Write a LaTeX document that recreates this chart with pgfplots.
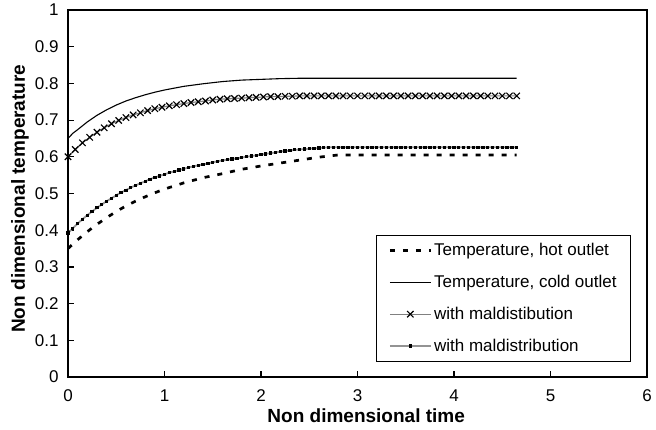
\documentclass[border=0pt]{standalone}
\usepackage{fontspec}
\setmainfont{Liberation Sans}
\usepackage{pgfplots}
\pgfplotsset{compat=1.18}
\begin{document}
\begin{tikzpicture}
\begin{axis}[
  at={(0,0)}, anchor=south west,
  scale only axis, width=579pt, height=367pt,
  xmin=0, xmax=6, ymin=0, ymax=1,
  xtick={0,1,2,3,4,5,6},
  ytick={0,0.1,0.2,0.3,0.4,0.5,0.6,0.7,0.8,0.9,1},
  tick align=inside, tick pos=left,
  major tick length=6pt,
  every tick/.style={black, line width=1.2pt},
  axis line style={line width=1.6pt},
  tick label style={font=\fontsize{17}{20}\selectfont},
  /pgf/number format/assume math mode=true,
  xticklabel style={anchor=base, yshift=-24pt},
  yticklabel style={xshift=-6pt},
  xlabel={Non dimensional time},
  ylabel={Non dimensional temperature},
  label style={font=\fontsize{19}{22}\selectfont\bfseries},
  xlabel style={at={(axis description cs:0.515,-0.124)}, anchor=base},
  ylabel style={at={(axis description cs:-0.0743,0.486)}, anchor=base},
  legend style={at={(axis description cs:0.9724,0.388)}, anchor=north east,
    draw=black, line width=1pt, font=\fontsize{17}{20}\selectfont,
    inner xsep=12pt, inner ysep=6.5pt, row sep=14pt},
  legend cell align=left,
  legend image code/.code={\draw[mark repeat=2,mark phase=2,#1] plot coordinates {(0pt,0pt) (20.5pt,0pt) (41pt,0pt)};},
]
% hot outlet (dashed)
\addplot[black, line width=2.7pt, dash pattern=on 5pt off 8pt, no marks] coordinates {
(0,0.350) (0.1,0.374) (0.2,0.396) (0.3,0.416) (0.4,0.434) (0.5,0.451) (0.6,0.466)
(0.7,0.479) (0.8,0.491) (0.9,0.502) (1.0,0.512) (1.2,0.529) (1.4,0.543) (1.6,0.554)
(1.8,0.566) (2.0,0.575) (2.2,0.583) (2.4,0.591) (2.6,0.599) (2.8,0.605) (4.65,0.605)
};
\addlegendentry{Temperature, hot outlet}
% cold outlet (solid)
\addplot[black, line width=1.1pt, no marks] coordinates {
(0,0.650) (0.05,0.664) (0.1,0.674) (0.2,0.695) (0.3,0.713) (0.4,0.728) (0.5,0.741) (0.6,0.752)
(0.7,0.761) (0.8,0.769) (0.9,0.776) (1.0,0.782) (1.2,0.792) (1.4,0.799) (1.6,0.805)
(1.8,0.809) (2.0,0.811) (2.2,0.813) (2.4,0.814) (4.65,0.814)
};
\addlegendentry{Temperature, cold outlet}
% cold with maldistribution (x marks)
\addplot[gray, line width=1.2pt, mark=x, mark size=4.5pt, mark options={black, solid, line width=1.2pt}] coordinates {
(0,0.600) (0.075,0.620) (0.15,0.638) (0.225,0.653) (0.3,0.667) (0.375,0.679)
(0.45,0.690) (0.525,0.699) (0.6,0.707) (0.675,0.714) (0.75,0.720) (0.825,0.726)
(0.9,0.731) (0.975,0.735) (1.05,0.739) (1.125,0.742) (1.2,0.745) (1.275,0.748)
(1.35,0.750) (1.425,0.752) (1.5,0.755) (1.575,0.757) (1.65,0.758) (1.725,0.759)
(1.8,0.760) (1.875,0.761) (1.95,0.762) (2.025,0.763) (2.1,0.764) (2.175,0.764)
(2.25,0.765) (2.325,0.765) (2.4,0.766) (2.475,0.766) (2.55,0.766) (2.625,0.766)
(2.7,0.766) (2.775,0.766) (2.85,0.766) (2.925,0.766) (3.0,0.766) (3.075,0.766)
(3.15,0.766) (3.225,0.766) (3.3,0.766) (3.375,0.766) (3.45,0.766) (3.525,0.766)
(3.6,0.766) (3.675,0.766) (3.75,0.766) (3.825,0.766) (3.9,0.766) (3.975,0.766)
(4.05,0.766) (4.125,0.766) (4.2,0.766) (4.275,0.766) (4.35,0.766) (4.425,0.766)
(4.5,0.766) (4.575,0.766) (4.65,0.766)
};
\addlegendentry{with maldistibution}
% hot with maldistribution (dots)
\addplot[gray!85, line width=1.8pt, mark=square*, mark size=0.75pt, mark options={black, solid}] coordinates {
(0,0.392) (0.05,0.405) (0.10,0.418) (0.15,0.430) (0.20,0.441) (0.25,0.451)
(0.30,0.461) (0.35,0.470) (0.40,0.479) (0.45,0.487) (0.50,0.495) (0.55,0.503)
(0.60,0.509) (0.65,0.516) (0.70,0.522) (0.75,0.528) (0.80,0.533) (0.85,0.539)
(0.90,0.544) (0.95,0.548) (1.00,0.552) (1.05,0.557) (1.10,0.560) (1.15,0.564)
(1.20,0.567) (1.25,0.571) (1.30,0.574) (1.35,0.577) (1.40,0.579) (1.45,0.582)
(1.50,0.585) (1.55,0.588) (1.60,0.590) (1.65,0.592) (1.70,0.594) (1.75,0.596)
(1.80,0.598) (1.85,0.600) (1.90,0.602) (1.95,0.604) (2.00,0.606) (2.05,0.608)
(2.10,0.610) (2.15,0.612) (2.20,0.614) (2.25,0.616) (2.30,0.617) (2.35,0.619)
(2.40,0.620) (2.45,0.621) (2.50,0.622) (2.55,0.623) (2.60,0.624) (2.65,0.625)
(2.70,0.626) (2.75,0.626) (2.80,0.626) (2.85,0.626) (2.90,0.626) (2.95,0.626)
(3.00,0.626) (3.05,0.626) (3.10,0.626) (3.15,0.626) (3.20,0.626) (3.25,0.626)
(3.30,0.626) (3.35,0.626) (3.40,0.626) (3.45,0.626) (3.50,0.626) (3.55,0.626)
(3.60,0.626) (3.65,0.626) (3.70,0.626) (3.75,0.626) (3.80,0.626) (3.85,0.626)
(3.90,0.626) (3.95,0.626) (4.00,0.626) (4.05,0.626) (4.10,0.626) (4.15,0.626)
(4.20,0.626) (4.25,0.626) (4.30,0.626) (4.35,0.626) (4.40,0.626) (4.45,0.626)
(4.50,0.626) (4.55,0.626) (4.60,0.626) (4.65,0.626)
};
\addlegendentry{with maldistribution}
\end{axis}
\pgfresetboundingbox
\path[use as bounding box] (-68pt,-52.5pt) rectangle (588pt,377pt);
\end{tikzpicture}
\end{document}
